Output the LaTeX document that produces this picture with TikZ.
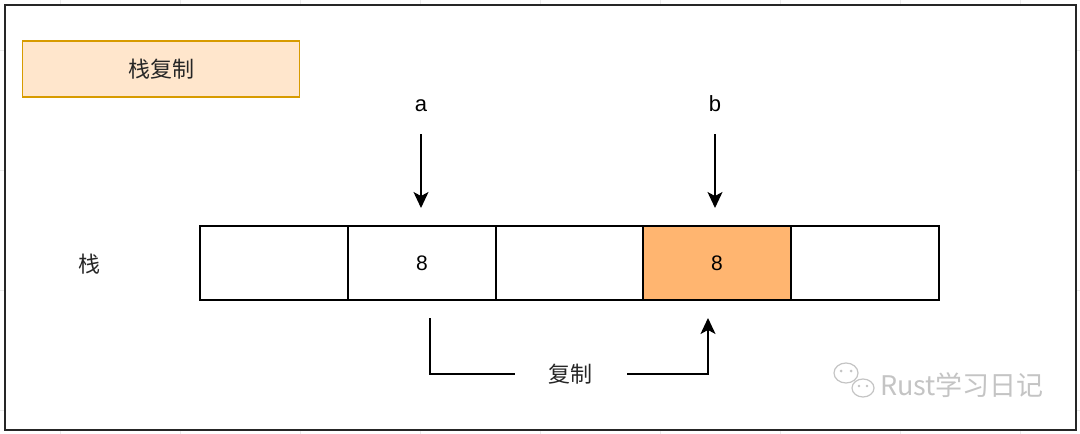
\documentclass[tikz,border=0pt]{standalone}
\usepackage{fontspec}
\setmainfont{Liberation Sans}
\newfontfamily\cjk{Noto Sans CJK SC}
\usetikzlibrary{arrows.meta}
\definecolor{titlefill}{HTML}{FFE6CC}
\definecolor{titledraw}{HTML}{D79B00}
\definecolor{cellorange}{HTML}{FFB570}
\definecolor{wm}{HTML}{C4C4C4}
\tikzset{
  cell/.style={draw=black, line width=1.3pt, minimum width=148pt, minimum height=74pt, inner sep=0pt, font=\fontsize{21pt}{24pt}\selectfont},
  ptr/.style={draw=black, line width=1.5pt, -{Stealth[length=16pt,width=15pt,inset=4pt]}},
  conn/.style={draw=black, line width=1.5pt},
  lbl/.style={font=\fontsize{22pt}{24pt}\selectfont, inner sep=0pt},
  cjklbl/.style={font=\cjk\fontsize{22pt}{24pt}\selectfont, text=black!85, inner sep=0pt},
}
\begin{document}
\begin{tikzpicture}[x=1pt,y=-1pt]
\useasboundingbox (0,0) rectangle (1080,434);
\fill[white] (0,0) rectangle (1080,434);
% faint grid in margins
\foreach \x in {60,180,300,420,540,660,780,900,1020} {\draw[black!8, line width=0.5pt] (\x,0) -- (\x,434);}
\foreach \y in {50,170,290,410} {\draw[black!8, line width=0.5pt] (0,\y) -- (1080,\y);}
\fill[white] (5,5) rectangle (1076,430);
\draw[black!85, line width=2pt] (5,5) rectangle (1076,430);
% title
\node[draw=titledraw, fill=titlefill, line width=1.5pt, minimum width=277pt, minimum height=56pt, inner sep=0pt, cjklbl] (title) at (161,69) {栈复制};
% stack label
\node[cjklbl] (stk) at (89,264) {栈};
% cells
\node[cell] (c1) at (274,263) {};
\node[cell] (c2) at (422,263) {8};
\node[cell] (c3) at (570,263) {};
\node[cell, fill=cellorange] (c4) at (717,263) {8};
\node[cell] (c5) at (865,263) {};
% pointer labels
\node[lbl] (la) at (421,106) {a};
\node[lbl] (lb) at (715,104) {b};
\coordinate (pa) at (421,134);
\coordinate (pb) at (715,134);
\coordinate (ea) at (421,208);
\coordinate (eb) at (715,208);
\draw[ptr] (pa) -- (ea);
\draw[ptr] (pb) -- (eb);
% copy connector
\node[cjklbl] (cp) at (570,374) {复制};
\coordinate (s0) at (430,318);
\coordinate (s1) at (430,374);
\coordinate (s2) at (515,374);
\coordinate (t0) at (627,374);
\coordinate (t1) at (708,374);
\coordinate (t2) at (708,318);
\draw[conn] (s0) -- (s1) -- (s2);
\draw[ptr] (t0) -- (t1) -- (t2);
% watermark
\node[font=\cjk\fontsize{27pt}{29pt}\selectfont, text=wm, anchor=west, inner sep=0pt] (wmt) at (880,385) {Rust学习日记};
\draw[wm, line width=1.2pt] (846,373) ellipse (12pt and 10pt);
\fill[wm] (841,371) circle (1.5pt) (851,371) circle (1.5pt);
\draw[wm, line width=1.2pt, fill=white] (863,388) ellipse (11pt and 9pt);
\fill[wm] (859,386) circle (1.3pt) (867,386) circle (1.3pt);
\end{tikzpicture}
\end{document}
